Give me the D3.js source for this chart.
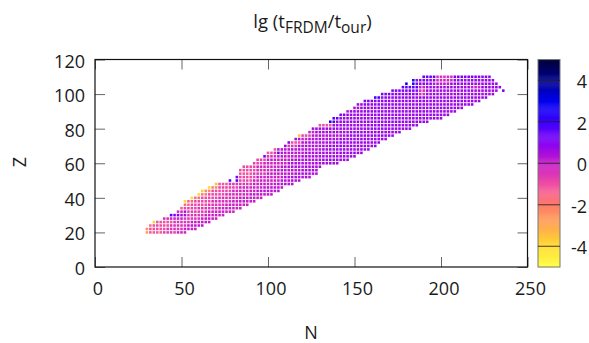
<!DOCTYPE html>
<html>
<head>
<meta charset="utf-8">
<script src="https://cdn.jsdelivr.net/npm/d3@7"></script>
<style>
  html, body { margin: 0; background: #fff; }
  svg { display: block; }
  text { font-family: "Open Sans", sans-serif; fill: #1a1a1a; }
</style>
</head>
<body>
<div id="chart"></div>
<script>
// proton numbers of the rows, bottom to top
const protonNumbers = [
  20, 22, 24, 26, 28, 30, 32, 34, 36, 38, 40, 42, 44, 46, 48, 50,
  52, 54, 56, 58, 60, 62, 64, 66, 68, 70, 72, 74, 76, 78, 80, 82,
  84, 86, 88, 90, 92, 94, 96, 98, 100, 102, 104, 106, 108, 110,
];

// one list per row: runs of even N as [from, to, lg ratio]
const neutronRuns = [
  [[30, 30, -2.7], [32, 38, -1.3], [40, 46, -0.7], [48, 52, -0.2]],
  [[30, 30, -2.4], [32, 40, -1.0], [42, 50, -0.5], [52, 58, 0.0]],
  [[32, 32, -1.8], [34, 42, -1.0], [44, 52, -0.5], [54, 62, 0.1]],
  [[34, 34, -3.9], [36, 44, -1.1], [46, 54, -0.5], [56, 66, 0.0]],
  [[40, 42, -0.4], [44, 50, -0.1], [52, 60, -0.5], [62, 70, 0.0]],
  [[44, 44, 1.7], [46, 48, 1.0], [50, 52, 0.5], [54, 62, -0.5], [64, 74, -0.1]],
  [[48, 50, -0.3], [52, 52, 0.4], [54, 64, -0.7], [66, 80, -0.1]],
  [[50, 50, -1.3], [52, 58, -0.8], [60, 70, -0.5], [72, 84, -0.1]],
  [[52, 54, -1.6], [56, 64, -0.9], [66, 74, -0.5], [76, 88, -0.1]],
  [[52, 52, -3.9], [54, 56, -1.5], [58, 66, -0.9], [68, 78, -0.4], [80, 92, 0.0]],
  [[56, 56, -4.0], [58, 60, -1.6], [62, 70, -0.9], [72, 82, -0.4], [84, 96, 0.0]],
  [[60, 60, -3.9], [62, 64, -1.9], [66, 74, -0.9], [76, 88, -0.3], [90, 102, 0.1]],
  [[62, 62, -3.8], [64, 66, -2.2], [68, 78, -0.9], [80, 92, -0.2], [94, 106, 0.2]],
  [[66, 66, -4.0], [68, 70, -2.2], [72, 82, -0.8], [84, 96, -0.2], [98, 108, 0.2]],
  [[70, 70, -3.4], [72, 76, -1.2], [78, 90, -0.5], [92, 104, 0.0], [106, 114, 0.3]],
  [[78, 78, 1.7], [82, 82, 1.8], [84, 90, -0.9], [92, 106, -0.1], [108, 118, 0.3]],
  [[82, 82, 1.0], [84, 92, -0.9], [94, 108, -0.1], [110, 124, 0.4]],
  [[84, 90, -1.1], [92, 98, -0.5], [100, 114, 0.1], [116, 128, 0.4]],
  [[84, 92, -1.0], [94, 102, -0.3], [104, 118, 0.2], [120, 128, 0.5]],
  [[86, 92, -0.9], [94, 106, -0.2], [108, 120, 0.3], [122, 130, 0.5]],
  [[92, 96, -0.8], [98, 110, -0.1], [112, 126, 0.4], [128, 140, 0.6]],
  [[94, 98, -0.8], [100, 112, 0.0], [114, 130, 0.4], [132, 146, 0.6]],
  [[98, 98, 1.3], [100, 104, -0.4], [106, 118, 0.1], [120, 136, 0.5], [138, 150, 0.6]],
  [[100, 102, -1.1], [104, 104, -0.3], [106, 106, 1.6], [108, 120, 0.2], [122, 138, 0.5], [140, 154, 0.7]],
  [[104, 104, -1.2], [106, 112, 0.2], [114, 130, 0.3], [132, 158, 0.6]],
  [[110, 110, 0.7], [112, 116, -0.6], [118, 134, 0.4], [136, 162, 0.7]],
  [[112, 112, 0.9], [114, 118, -1.0], [120, 136, 0.4], [138, 164, 0.7]],
  [[116, 118, 0.5], [120, 122, -0.2], [124, 140, 0.4], [142, 168, 0.7]],
  [[118, 118, -3.4], [120, 124, -0.8], [126, 144, 0.3], [146, 172, 0.7]],
  [[124, 126, -0.1], [128, 146, 0.5], [148, 176, 0.7]],
  [[126, 128, 0.6], [130, 150, 0.6], [152, 182, 0.7]],
  [[130, 136, -1.1], [138, 156, 0.6], [158, 186, 0.7]],
  [[136, 136, 2.6], [138, 138, 1.7], [140, 160, 0.7], [162, 192, 0.7]],
  [[138, 140, 1.6], [142, 162, 0.7], [164, 200, 0.7]],
  [[142, 144, 1.0], [146, 166, 0.7], [168, 204, 0.7]],
  [[146, 146, 0.2], [148, 170, 0.7], [172, 208, 0.7]],
  [[150, 152, 0.4], [154, 174, 0.7], [176, 212, 0.7]],
  [[152, 154, 0.6], [156, 176, 0.8], [178, 218, 0.7]],
  [[156, 160, 1.0], [162, 180, 0.8], [182, 222, 0.7]],
  [[162, 164, 2.0], [166, 184, 0.8], [186, 226, 0.7]],
  [[166, 170, 1.1], [172, 186, 0.9], [188, 190, -0.4], [192, 230, 0.6]],
  [[172, 172, 1.2], [174, 186, 1.0], [188, 190, -0.3], [192, 232, 0.6], [236, 236, 1.1]],
  [[178, 182, 1.5], [184, 186, 1.7], [188, 190, 0.0], [192, 216, 0.6], [218, 222, 0.0], [224, 234, 0.8]],
  [[180, 180, 2.9], [184, 184, 2.7], [186, 194, 0.9], [196, 204, 0.2], [206, 232, 0.7]],
  [[184, 184, 2.5], [186, 196, 0.8], [198, 206, -0.2], [208, 230, 0.7]],
  [[190, 196, 1.5], [198, 206, -0.4], [208, 220, 1.1], [222, 228, 0.9]],
];

const xTicks = [0, 50, 100, 150, 200, 250];
const yTicks = [0, 20, 40, 60, 80, 100, 120];
const colorTicks = [-4, -2, 0, 2, 4];
const colorStops = [-5, -4, -3, -2, -1, 0, 1, 2, 3, 4, 5];
const colorValues = [
  "#ffff50", "#ffdc2c", "#ffa850", "#ff7c6a", "#f04ea4", "#c81cc8",
  "#8600f4", "#3c00ff", "#0000f0", "#000090", "#000038",
];

const WIDTH = 589;
const HEIGHT = 343;
const PLOT = { LEFT: 95, RIGHT: 527.5, TOP: 59.5, BOTTOM: 267 };
const BAR = { LEFT: 538, RIGHT: 560 };
const TICK_SIZE = 10;
const FONT_SIZE = 18;

const x = d3.scaleLinear([0, 250], [PLOT.LEFT, PLOT.RIGHT]);
const y = d3.scaleLinear([0, 120], [PLOT.BOTTOM, PLOT.TOP]);
const yColor = d3.scaleLinear([-5, 5], [PLOT.BOTTOM, PLOT.TOP]);
const color = d3.scaleLinear(colorStops, colorValues).interpolate(d3.interpolateRgb);

const cells = protonNumbers.flatMap((Z, row) =>
  neutronRuns[row].flatMap(([from, to, value]) =>
    d3.range(from, to + 1, 2).map((N) => ({ N, Z, value }))
  )
);

const svg = d3
  .select("#chart")
  .append("svg")
  .attr("width", WIDTH)
  .attr("height", HEIGHT);

const cellWidth = x(2) - x(0) - 0.9;
const cellHeight = y(0) - y(2) - 0.9;

svg
  .append("g")
  .selectAll("rect")
  .data(cells)
  .join("rect")
  .attr("x", (d) => x(d.N) - cellWidth / 2)
  .attr("y", (d) => y(d.Z) - cellHeight / 2)
  .attr("width", cellWidth)
  .attr("height", cellHeight)
  .attr("fill", (d) => color(d.value));

const styleAxis = (g) => {
  g.select(".domain").remove();
  g.selectAll("line").attr("stroke", "#666").attr("stroke-width", 1);
  g.selectAll("text").style("font-size", `${FONT_SIZE}px`);
};

// labelled ticks on the left and bottom, bare mirror ticks on the top and right
svg
  .append("g")
  .attr("transform", `translate(0, ${PLOT.BOTTOM})`)
  .call(d3.axisBottom(x).tickValues(xTicks).tickSize(-TICK_SIZE).tickPadding(15))
  .call(styleAxis)
  .selectAll("text")
  .attr("dx", 2.5);

svg
  .append("g")
  .attr("transform", `translate(0, ${PLOT.TOP})`)
  .call(d3.axisTop(x).tickValues(xTicks).tickSize(-TICK_SIZE).tickFormat(""))
  .call(styleAxis);

svg
  .append("g")
  .attr("transform", `translate(${PLOT.LEFT}, 0)`)
  .call(d3.axisLeft(y).tickValues(yTicks).tickSize(-TICK_SIZE).tickPadding(10))
  .call(styleAxis)
  .selectAll("text")
  .attr("dy", "0.42em");

svg
  .append("g")
  .attr("transform", `translate(${PLOT.RIGHT}, 0)`)
  .call(d3.axisRight(y).tickValues(yTicks).tickSize(-TICK_SIZE).tickFormat(""))
  .call(styleAxis);

svg
  .append("rect")
  .attr("x", PLOT.LEFT)
  .attr("y", PLOT.TOP)
  .attr("width", PLOT.RIGHT - PLOT.LEFT)
  .attr("height", PLOT.BOTTOM - PLOT.TOP)
  .attr("fill", "none")
  .attr("stroke", "#111")
  .attr("stroke-width", 1.2);

// colour bar drawn as a stack of thin strips, the way gnuplot does
const barSteps = d3.range(-5, 5, 0.05);

svg
  .append("g")
  .selectAll("rect")
  .data(barSteps)
  .join("rect")
  .attr("x", BAR.LEFT)
  .attr("y", (d) => yColor(d + 0.05))
  .attr("width", BAR.RIGHT - BAR.LEFT)
  .attr("height", (d) => yColor(d) - yColor(d + 0.05) + 0.4)
  .attr("fill", (d) => color(d + 0.025));

svg
  .append("rect")
  .attr("x", BAR.LEFT)
  .attr("y", PLOT.TOP)
  .attr("width", BAR.RIGHT - BAR.LEFT)
  .attr("height", PLOT.BOTTOM - PLOT.TOP)
  .attr("fill", "none")
  .attr("stroke", "#777")
  .attr("stroke-width", 1);

svg
  .append("g")
  .selectAll("line")
  .data(colorTicks)
  .join("line")
  .attr("x1", BAR.LEFT)
  .attr("x2", BAR.RIGHT)
  .attr("y1", (d) => yColor(d))
  .attr("y2", (d) => yColor(d))
  .attr("stroke", "#222")
  .attr("stroke-opacity", 0.85)
  .attr("stroke-width", 1);

svg
  .append("g")
  .selectAll("text")
  .data(colorTicks)
  .join("text")
  .attr("x", 587)
  .attr("y", (d) => yColor(d) + 8)
  .attr("text-anchor", "end")
  .style("font-size", `${FONT_SIZE}px`)
  .text((d) => d);

// axis labels and title
svg
  .append("text")
  .attr("x", 311)
  .attr("y", 339)
  .attr("text-anchor", "middle")
  .style("font-size", `${FONT_SIZE}px`)
  .text("N");

svg
  .append("text")
  .attr("transform", "translate(26, 162) rotate(-90)")
  .attr("text-anchor", "middle")
  .style("font-size", `${FONT_SIZE}px`)
  .text("Z");

const title = svg
  .append("text")
  .attr("x", 312.5)
  .attr("y", 28)
  .attr("text-anchor", "middle")
  .style("font-size", "18.5px");

title.append("tspan").text("lg (t");
title.append("tspan").attr("dy", 5).style("font-size", "15.5px").text("FRDM");
title.append("tspan").attr("dy", -5).text("/t");
title.append("tspan").attr("dy", 5).style("font-size", "15.5px").text("our");
title.append("tspan").attr("dy", -5).text(")");
</script>
</body>
</html>
